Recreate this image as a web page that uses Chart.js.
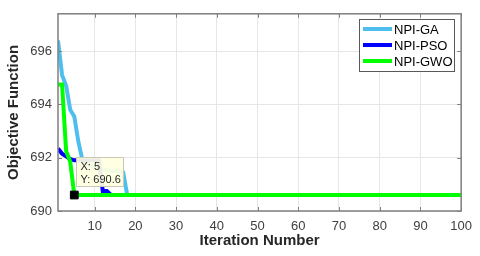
<!DOCTYPE html>
<html>
<head>
<meta charset="utf-8">
<script src="https://cdn.jsdelivr.net/npm/chart.js@4"></script>
<style>
  body { margin: 0; background: #fff; }
  canvas { display: block; }
</style>
</head>
<body>
<canvas id="convChart" width="480" height="256"></canvas>
<script>
// convergence curves (iteration, best objective value)
const gaIter = [1, 2, 3, 4, 5, 6, 7, 8, 9, 10, 12, 14, 16, 17, 18, 100];
const gaVal = [696.4, 695.1, 694.7, 693.8, 693.55, 692.6, 691.9, 691.8, 691.7, 691.6, 691.55, 691.5, 691.5, 691.45, 690.6, 690.6];

const psoIter = [1, 2, 3, 4, 5, 11, 12, 13, 14, 100];
const psoVal = [692.35, 692.15, 692.05, 691.95, 691.9, 691.9, 690.75, 690.75, 690.6, 690.6];

const gwoIter = [1, 2, 3, 4, 5, 100];
const gwoVal = [694.75, 694.75, 692.25, 691.85, 690.6, 690.6];

// data tip
const tipX = 5;
const tipY = 690.6;

const xTicks = [10, 20, 30, 40, 50, 60, 70, 80, 90, 100];
const yTicks = [690, 692, 694, 696];

function toPoints(xs, ys) {
    return xs.map((x, i) => ({ x: x, y: ys[i] }));
}

// axes box with inward ticks, like matlab
const boxPlugin = {
    id: 'box',
    afterDatasetsDraw(chart) {
        const { ctx, chartArea: a, scales } = chart;
        ctx.save();
        ctx.strokeStyle = '#7f7f7f';
        ctx.lineWidth = 1.5;
        ctx.strokeRect(a.left, a.top, a.right - a.left, a.bottom - a.top);
        ctx.lineWidth = 1;
        ctx.beginPath();
        xTicks.forEach(v => {
            const px = Math.round(scales.x.getPixelForValue(v)) + 0.5;
            ctx.moveTo(px, a.bottom); ctx.lineTo(px, a.bottom - 4);
            ctx.moveTo(px, a.top); ctx.lineTo(px, a.top + 4);
        });
        yTicks.forEach(v => {
            const py = Math.round(scales.y.getPixelForValue(v)) + 0.5;
            ctx.moveTo(a.left, py); ctx.lineTo(a.left + 4, py);
            ctx.moveTo(a.right, py); ctx.lineTo(a.right - 4, py);
        });
        ctx.stroke();
        ctx.restore();
    }
};

// legend box in the top right corner
const legendPlugin = {
    id: 'boxLegend',
    afterDraw(chart) {
        const ctx = chart.ctx;
        const items = chart.data.datasets.filter(d => d.label);
        const left = 359, top = 19, w = 95, rowH = 16;
        ctx.save();
        ctx.fillStyle = '#fff';
        ctx.fillRect(left, top, w, items.length * rowH + 4);
        ctx.strokeStyle = '#595959';
        ctx.lineWidth = 1;
        ctx.strokeRect(left + 0.5, top + 0.5, w, items.length * rowH + 4);
        ctx.font = '13px Arial, "Liberation Sans"';
        ctx.textBaseline = 'middle';
        items.forEach((d, i) => {
            const y = top + 10 + i * rowH;
            ctx.strokeStyle = d.borderColor;
            ctx.lineWidth = 4;
            ctx.beginPath();
            ctx.moveTo(left + 4, y);
            ctx.lineTo(left + 33, y);
            ctx.stroke();
            ctx.fillStyle = '#000';
            ctx.fillText(d.label, left + 35, y + 1);
        });
        ctx.restore();
    }
};

// matlab style data tip
const dataTipPlugin = {
    id: 'dataTip',
    afterDraw(chart) {
        const ctx = chart.ctx;
        const px = chart.scales.x.getPixelForValue(tipX);
        const py = chart.scales.y.getPixelForValue(tipY);
        const bx = Math.round(px) + 2.5, by = Math.round(py) - 37.5;
        ctx.save();
        ctx.fillStyle = 'rgba(255, 255, 225, 0.92)';
        ctx.fillRect(bx, by, 47, 29);
        ctx.strokeStyle = '#c8c8b4';
        ctx.lineWidth = 1;
        ctx.strokeRect(bx, by, 47, 29);
        ctx.fillStyle = '#262626';
        ctx.font = '11px Arial, "Liberation Sans"';
        ctx.textBaseline = 'middle';
        ctx.fillText('X: ' + tipX, bx + 4, by + 9);
        ctx.fillText('Y: ' + tipY, bx + 4, by + 22);
        ctx.restore();
    }
};

const ctx = document.getElementById('convChart').getContext('2d');
const convChart = new Chart(ctx, {
    type: 'line',
    data: {
        datasets: [{
            label: 'NPI-GA',
            data: toPoints(gaIter, gaVal),
            borderColor: '#4dbeee',
            borderWidth: 4,
            pointRadius: 0,
            order: 3
        },
        {
            label: 'NPI-PSO',
            data: toPoints(psoIter, psoVal),
            borderColor: '#0000ff',
            borderWidth: 4,
            pointRadius: 0,
            order: 2
        },
        {
            label: 'NPI-GWO',
            data: toPoints(gwoIter, gwoVal),
            borderColor: '#00ff00',
            borderWidth: 4,
            pointRadius: 0,
            order: 1
        },
        {
            data: [{ x: tipX, y: tipY }],
            showLine: false,
            pointStyle: 'rect',
            pointRadius: 5.5,
            pointBackgroundColor: '#000',
            pointBorderColor: '#000',
            pointBorderWidth: 1,
            order: 0,
            clip: false
        }]
    },
    options: {
        responsive: false,
        animation: false,
        devicePixelRatio: 1,
        layout: { padding: { top: 11, right: 18, left: 0, bottom: 0 } },
        plugins: {
            legend: { display: false },
            tooltip: { enabled: false }
        },
        scales: {
            x: {
                type: 'linear',
                min: 1,
                max: 100,
                afterBuildTicks: s => { s.ticks = xTicks.map(v => ({ value: v })); },
                afterFit: s => { s.height = 45; },
                border: { display: false },
                grid: { color: '#e6e6e6', drawTicks: false },
                ticks: { color: '#404040', font: { family: 'Arial', size: 13 }, padding: 8, maxRotation: 0 },
                title: { display: true, text: 'Iteration Number', color: '#262626',
                         font: { family: 'Arial', size: 15, weight: 'bold' }, padding: { top: 0, bottom: 6 } }
            },
            y: {
                min: 690,
                max: 697.4,
                afterBuildTicks: s => { s.ticks = yTicks.map(v => ({ value: v })); },
                afterFit: s => { s.width = 58; },
                border: { display: false },
                grid: { color: '#e6e6e6', drawTicks: false },
                ticks: { color: '#404040', font: { family: 'Arial', size: 13 }, padding: 6 },
                title: { display: true, text: 'Objective Function', color: '#262626',
                         font: { family: 'Arial', size: 15, weight: 'bold' }, padding: { top: 5, bottom: 0 } }
            }
        }
    },
    plugins: [boxPlugin, legendPlugin, dataTipPlugin]
});
</script>
</body>
</html>
